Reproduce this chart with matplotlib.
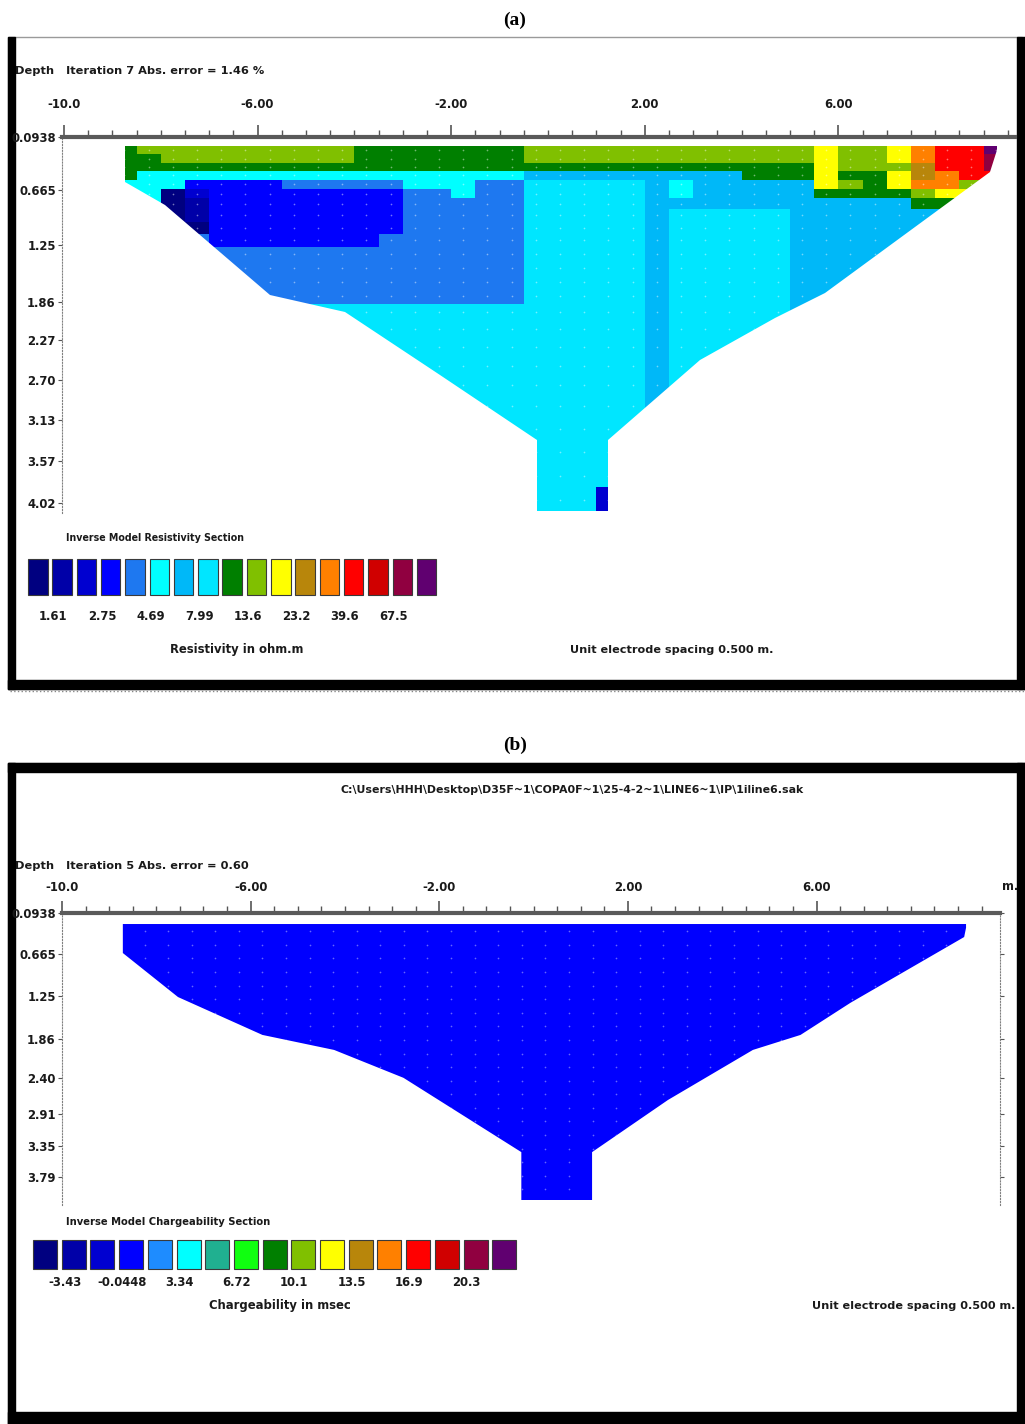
import numpy as np
import matplotlib.pyplot as plt
from matplotlib import font_manager
from matplotlib.colors import ListedColormap
from matplotlib.patches import Polygon, Rectangle

W, H = 1025, 1424

# colour classes of the two legends (17 boxes each)
keys = "123456789abcdefgh"
res_colors = ["#000080", "#0000a8", "#0000d0", "#0000ff", "#1e78f0", "#00ffff",
              "#00b8f8", "#00e6ff", "#007f00", "#80c000", "#ffff00", "#b8860b",
              "#ff8000", "#ff0000", "#d00000", "#900040", "#600070"]
chg_colors = ["#000080", "#0000a8", "#0000d0", "#0000ff", "#1e8cff", "#00ffff",
              "#20b090", "#10ff10", "#007f00", "#80c000", "#ffff00", "#b8860b",
              "#ff8000", "#ff0000", "#d00000", "#900040", "#600070"]

res_legend = ["1.61", "2.75", "4.69", "7.99", "13.6", "23.2", "39.6", "67.5"]
chg_legend = ["-3.43", "-0.0448", "3.34", "6.72", "10.1", "13.5", "16.9", "20.3"]

x_major = [-10, -6, -2, 2, 6]
x_labels = ["-10.0", "-6.00", "-2.00", "2.00", "6.00"]

depth_a = [0.0938, 0.665, 1.25, 1.86, 2.27, 2.70, 3.13, 3.57, 4.02]
depth_a_lbl = ["0.0938", "0.665", "1.25", "1.86", "2.27", "2.70", "3.13", "3.57", "4.02"]
depth_b = [0.0938, 0.665, 1.25, 1.86, 2.40, 2.91, 3.35, 3.79]
depth_b_lbl = ["0.0938", "0.665", "1.25", "1.86", "2.40", "2.91", "3.35", "3.79"]

# resistivity model blocks: 37 columns of 0.5 m from -9.0, rows between these depths
res_x0, res_dx = -9.0, 0.5
res_z = [0.19, 0.28, 0.37, 0.46, 0.55, 0.65, 0.75, 0.87, 1.0, 1.13, 1.27, 1.42, 1.57,
         1.72, 1.88, 2.05, 2.25, 2.45, 2.65, 2.85, 3.1, 3.35, 3.6, 3.85, 4.12]
res_rows = [
    "9aaaaaaaaa9999999aaaaaaaaaaaabaabdeeh",
    "99aaaaaaaa9999999aaaaaaaaaaaabaabdeeg",
    "99999999999999999999999999999baaaceeg",
    "96666666666666666777777777999b99bcdee",
    "66644445555566655888887677777ba9bddaa",
    "661344444444556558888876777779999abbb",
    "6612444444445555588888777777777779999",
    "6612444444445555588888788888777777777",
    "6661444444445555588888788888777777777",
    "5555444444455555588888788888777777777",
    "5555555555555555588888788888777777777",
    "5555555555555555588888788888777777777",
    "5555555555555555588888788888777777777",
    "5555555555555555588888788888777777777",
    "8888888888888888888888788888777777777",
    "8888888888888888888888788888888888888",
    "8888888888888888888888788888888888888",
    "8888888888888888888888788888888888888",
    "8888888888888888888888788888888888888",
    "8888888888888888888888788888888888888",
    "8888888888888888888888888888888888888",
    "8888888888888888888888888888888888888",
    "8888888888888888888888888888888888888",
    "8888888888888888888838888888888888888",
]

# outline of the inverted sections (x in m, depth in m)
bound_a_x = [-8.74, 9.28, 9.28, 9.13, 5.72, 4.69, 3.14, 1.24, 1.24, -0.23, -0.23,
             -2.23, -4.19, -5.74, -7.91, -8.74]
bound_a_z = [0.19, 0.19, 0.23, 0.47, 1.77, 2.03, 2.48, 3.34, 4.10, 4.10, 3.34,
             2.64, 1.97, 1.79, 0.82, 0.576]
bound_b_x = [-8.71, 9.17, 9.17, 9.13, 6.72, 5.66, 4.65, 2.85, 1.24, 1.24, -0.26,
             -0.26, -2.76, -4.23, -5.75, -7.54, -8.71]
bound_b_z = [0.248, 0.248, 0.30, 0.43, 1.35, 1.80, 2.01, 2.71, 3.44, 4.11, 4.11,
             3.44, 2.40, 2.01, 1.80, 1.27, 0.654]
chg_body = "4"

# tall narrow screen font if there is one, else shrink DejaVu
installed = {f.name for f in font_manager.fontManager.ttflist}
if "Liberation Sans Narrow" in installed:
    FAM, FS = "Liberation Sans Narrow", 10.5
else:
    FAM, FS = "DejaVu Sans", 8.4
txt = dict(family=FAM, fontweight="bold", color="#1a1a1a")

fig = plt.figure(figsize=(W / 100, H / 100), dpi=100)
bg = fig.add_axes([0, 0, 1, 1], zorder=0)
bg.set_xlim(0, W)
bg.set_ylim(H, 0)
bg.axis("off")


def frame(top, bottom, top_w, bottom_w):
    bg.add_patch(Rectangle((8, top), 1014, bottom - top, fill=False, ec="#9a9a9a", lw=1))
    bg.add_patch(Rectangle((8, top), 7, bottom - top, color="black"))
    bg.add_patch(Rectangle((1017, top), 8, bottom - top, color="black"))
    if top_w:
        bg.add_patch(Rectangle((8, top), 1017, top_w, color="black"))
    bg.add_patch(Rectangle((8, bottom - bottom_w), 1017, bottom_w, color="black"))


frame(37, 689, 0, 9)
bg.plot([10, 1025], [691, 691], ls=":", color="#888888", lw=1)
frame(763, 1424, 9, 12)

bg.text(515, 20, "(a)", ha="center", va="center", family="Liberation Serif",
        fontweight="bold", fontsize=14)
bg.text(515, 745, "(b)", ha="center", va="center", family="Liberation Serif",
        fontweight="bold", fontsize=14)


def section(px0, px1, py0, py1, xlim, ylim, ticks, tlabels, right, xpad):
    ax = fig.add_axes([px0 / W, 1 - py1 / H, (px1 - px0) / W, (py1 - py0) / H], zorder=2)
    ax.patch.set_visible(False)
    ax.set_xlim(*xlim)
    ax.set_ylim(*ylim)
    ax.xaxis.tick_top()
    ax.set_xticks(x_major)
    ax.set_xticklabels(x_labels, **txt)
    ax.set_xticks(np.arange(-10, xlim[1], 0.5), minor=True)
    ax.tick_params(axis="x", which="major", length=9, width=1.2, color="#555555",
                   pad=xpad, labelsize=FS)
    ax.tick_params(axis="x", which="minor", length=5, width=1, color="#555555")
    ax.set_yticks(ticks)
    ax.set_yticklabels(tlabels, **txt)
    ax.tick_params(axis="y", length=3, pad=1.5, labelsize=FS, color="#555555",
                   right=right)
    ax.spines["top"].set_color("#5a5a5a")
    ax.spines["top"].set_linewidth(3)
    ax.spines["left"].set_linestyle(":")
    ax.spines["left"].set_color("#808080")
    ax.spines["bottom"].set_visible(False)
    ax.spines["right"].set_visible(right)
    ax.spines["right"].set_linestyle(":")
    ax.spines["right"].set_color("#808080")
    return ax


# ---- (a) resistivity section
ax_a = section(62, 1015, 137, 512.6, (-10.04, 9.65), (4.12, 0.0938),
               depth_a, depth_a_lbl, False, 10)
grid = np.array([[keys.index(c) for c in row] for row in res_rows])
x_edges = res_x0 + res_dx * np.arange(grid.shape[1] + 1)
clip_a = Polygon(np.column_stack([bound_a_x, bound_a_z]), fc="none", ec="none")
ax_a.add_patch(clip_a)
mesh = ax_a.pcolormesh(x_edges, res_z, grid, cmap=ListedColormap(res_colors),
                       vmin=-0.5, vmax=16.5, shading="flat", antialiased=False)
mesh.set_clip_path(clip_a)
cx, cz = np.meshgrid(x_edges[:-1] + res_dx / 2,
                     (np.array(res_z[:-1]) + np.array(res_z[1:])) / 2)
dots = ax_a.scatter(cx.ravel(), cz.ravel(), s=1.5, color="white", alpha=0.45, lw=0)
dots.set_clip_path(clip_a)

bg.text(15, 71, "Depth   Iteration 7 Abs. error = 1.46 %", va="center",
        fontsize=FS * 0.98, **txt)
bg.text(66, 538, "Inverse Model Resistivity Section", va="center",
        fontsize=FS * 0.82, **txt)
for i, col in enumerate(res_colors):
    bg.add_patch(Rectangle((28 + 24.3 * i, 559), 19.5, 36, fc=col, ec="#3a3a3a", lw=0.8))
for k, lab in enumerate(res_legend):
    bg.text(28 + 24.3 * (2 * k + 1) + 1, 617, lab, ha="center", va="center",
            fontsize=FS, **txt)
bg.text(237, 649, "Resistivity in ohm.m", ha="center", va="center", fontsize=FS, **txt)
bg.text(570, 650, "Unit electrode spacing 0.500 m.", va="center",
        fontsize=FS * 0.96, **txt)

# ---- (b) chargeability section
ax_b = section(62, 1000, 913, 1205, (-9.96, 9.89), (4.18, 0.0938),
               depth_b, depth_b_lbl, True, 4.5)
ax_b.fill(bound_b_x, bound_b_z, color=chg_colors[keys.index(chg_body)], lw=0)
clip_b = Polygon(np.column_stack([bound_b_x, bound_b_z]), fc="none", ec="none")
ax_b.add_patch(clip_b)
bx, bz = np.meshgrid(np.arange(-8.75, 9.3, 0.5), np.arange(0.35, 4.1, 0.19))
dots_b = ax_b.scatter(bx.ravel(), bz.ravel(), s=1.5, color="white", alpha=0.4, lw=0)
dots_b.set_clip_path(clip_b)

bg.text(572, 790, r"C:\Users\HHH\Desktop\D35F~1\COPA0F~1\25-4-2~1\LINE6~1\IP\1iline6.sak",
        ha="center", va="center", fontsize=FS * 0.94, **txt)
bg.text(15, 866, "Depth   Iteration 5 Abs. error = 0.60", va="center",
        fontsize=FS * 0.98, **txt)
bg.text(1010, 887, "m.", ha="center", va="center", fontsize=FS, **txt)
bg.text(66, 1222, "Inverse Model Chargeability Section", va="center",
        fontsize=FS * 0.86, **txt)
for i, col in enumerate(chg_colors):
    bg.add_patch(Rectangle((33 + 28.7 * i, 1240), 24, 29, fc=col, ec="#3a3a3a", lw=0.8))
for k, lab in enumerate(chg_legend):
    bg.text(33 + 28.7 * (2 * k + 1) + 3, 1283, lab, ha="center", va="center",
            fontsize=FS, **txt)
bg.text(280, 1306, "Chargeability in msec", ha="center", va="center", fontsize=FS, **txt)
bg.text(1015, 1306, "Unit electrode spacing 0.500 m.", ha="right", va="center",
        fontsize=FS * 0.96, **txt)

fig.savefig("out.png", dpi=100)
